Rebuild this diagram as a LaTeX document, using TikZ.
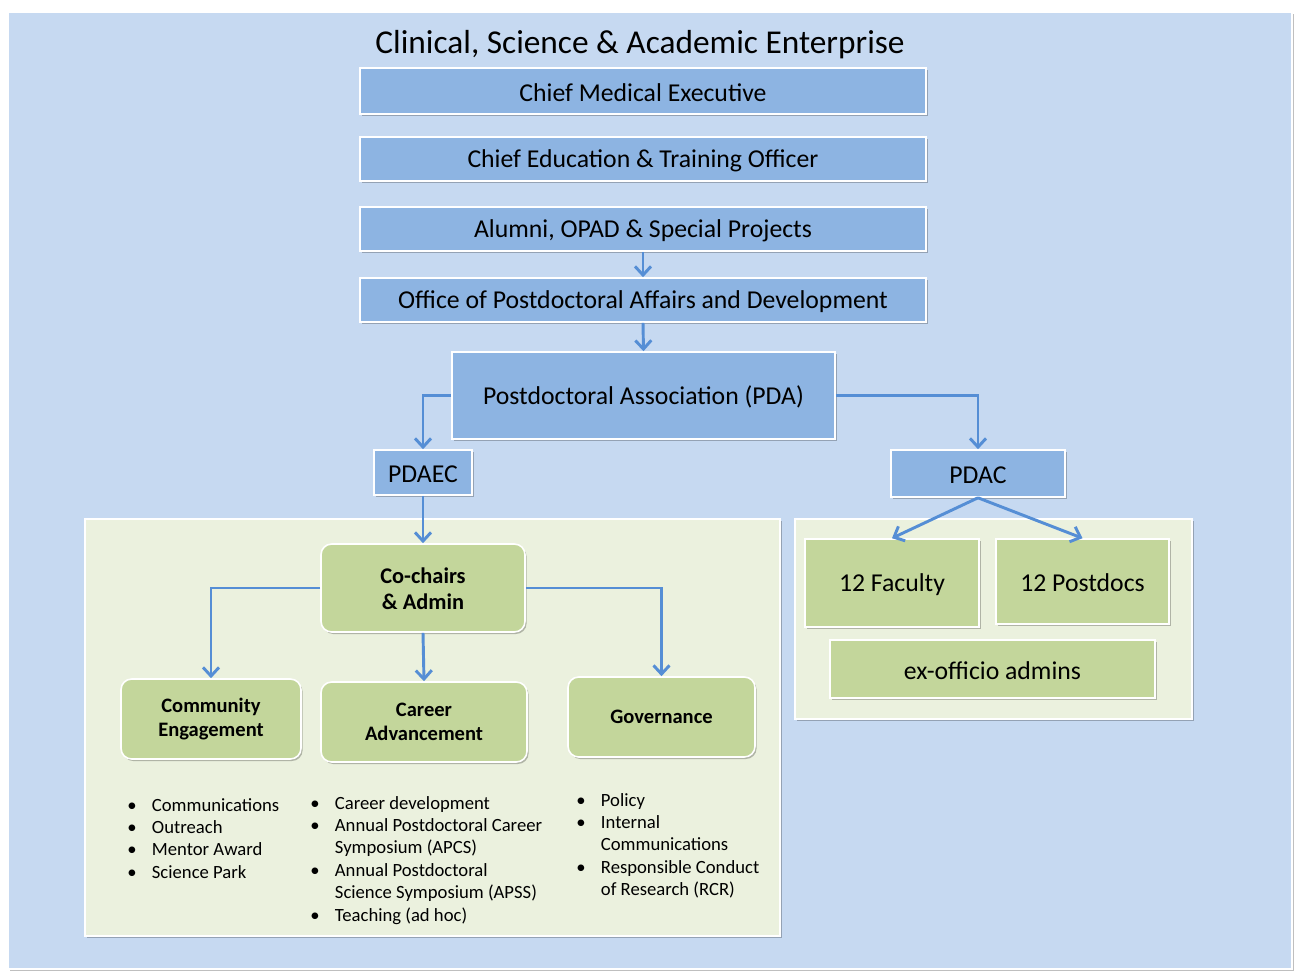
\documentclass[tikz,border=0pt]{standalone}
\usepackage{fontspec}
\setmainfont{Carlito}
\usetikzlibrary{arrows.meta,shadows,fit}
\definecolor{bgblue}{HTML}{C6D9F1}
\definecolor{boxblue}{HTML}{8DB4E2}
\definecolor{boxgreen}{HTML}{C3D69B}
\definecolor{panelgreen}{HTML}{EBF1DE}
\definecolor{arrowblue}{HTML}{558ED5}
\tikzset{
  shad/.style={drop shadow={shadow xshift=1.2pt,shadow yshift=-1.5pt,opacity=0.25,fill=black}},
  bluebox/.style={draw=white,line width=1.2pt,fill=boxblue,inner sep=0pt,shad},
  greenrbox/.style={draw=white,line width=1.2pt,fill=boxgreen,inner sep=0pt,shad,rounded corners=8pt},
  greenbox/.style={draw=white,line width=1.2pt,fill=boxgreen,inner sep=0pt,shad},
  panel/.style={draw=white,line width=1.2pt,fill=panelgreen,inner sep=0pt,shad},
  bigtxt/.style={yshift=-1.2pt,font=\fontsize{19.3}{23}\selectfont},
  boldtxt/.style={align=center,font=\bfseries\fontsize{15.4}{18}\selectfont},
  arr/.style={draw=arrowblue,line width=2.2pt,-{Straight Barb[length=6.5pt,width=12pt,line width=2.2pt]}},
  blist/.style={anchor=base west,inner sep=0pt,font=\fontsize{14}{16.8}\selectfont},
}
\newcommand{\bl}{\makebox[18.5pt][l]{•}}
\newcommand{\bi}{\hspace{18.5pt}}
\begin{document}
\begin{tikzpicture}[x=0.75pt,y=-0.75pt]
\useasboundingbox (0,0) rectangle (1306,974);
\fill[white] (0,0) rectangle (1306,974);
\path[fill=bgblue,draw=white,line width=1pt,shad] (8,12) rectangle (1292,969);

\node[font=\fontsize{25}{29}\selectfont] (title) at (640,45) {Clinical, Science \& Academic Enterprise};

\node[bluebox,fit={(360,68)(926,114)}] (cme) {};
\node[bigtxt] at (cme.center) {Chief Medical Executive};
\node[bluebox,fit={(360,137)(926,181)}] (ceto) {};
\node[bigtxt] at (ceto.center) {Chief Education \& Training Officer};
\node[bluebox,fit={(360,207)(926,251)}] (alumni) {};
\node[bigtxt] at (alumni.center) {Alumni, OPAD \& Special Projects};
\node[bluebox,fit={(360,278)(926,322)}] (opad) {};
\node[bigtxt] at (opad.center) {Office of Postdoctoral Affairs and Development};
\node[bluebox,fit={(452,352)(835,439)}] (pda) {};
\node[bigtxt] at (pda.center) {Postdoctoral Association (PDA)};
\node[bluebox,fit={(374,450)(472,495)}] (pdaec) {};
\node[bigtxt] at (pdaec.center) {PDAEC};
\node[bluebox,fit={(891,450)(1065,497)}] (pdac) {};
\node[bigtxt] at (pdac.center) {PDAC};

\node[panel,fit={(85,519)(780,936)}] (lpanel) {};
\node[panel,fit={(795,519)(1192,719)}] (rpanel) {};

\node[greenrbox,fit={(321,544)(525,632)}] (cochairs) {};
\node at (cochairs.center) [yshift=-0.8pt,align=center,font=\bfseries\fontsize{16.8}{19.5}\selectfont] {Co-chairs\\\& Admin};
\node[greenrbox,fit={(121,679)(301,759)}] (comm) {};
\node[boldtxt] at (comm.center) {Community\\Engagement};
\node[greenrbox,fit={(321,682)(527,762)}] (career) {};
\node[boldtxt] at (career.center) {Career\\Advancement};
\node[greenrbox,fit={(568,677)(755,757)}] (gov) {};
\node[boldtxt] at (gov.center) {Governance};

\node[greenbox,fit={(805,539)(979,627)}] (fac) {};
\node[bigtxt] at (fac.center) {12 Faculty};
\node[greenbox,fit={(996,539)(1169,624)}] (postdocs) {};
\node[bigtxt] at (postdocs.center) {12 Postdocs};
\node[greenbox,fit={(830,640)(1155,698)}] (exoff) {};
\node[bigtxt] at (exoff.center) {ex-officio admins};

\draw[arr] (alumni.south) -- (opad.north);
\draw[arr] (opad.south) -- (pda.north);
\draw[arr] (pda.west) -| (pdaec.north);
\draw[arr] (pda.east) -| (pdac.north);
\draw[arr] (pdaec.south) -- (cochairs.north);
\draw[arr] (pdac.south) -- (fac.north);
\draw[arr] (pdac.south) -- (postdocs.north);
\draw[arr] (cochairs.west) -| (comm.north);
\draw[arr] (cochairs.south) -- (career.north);
\draw[arr] (cochairs.east) -| (gov.north);

\node[blist] (l1) at (127,811) {\begin{tabular}[t]{@{}l@{}}
\bl Communications\\ \bl Outreach\\ \bl Mentor Award\\ \bl Science Park\end{tabular}};
\node[blist] (l2) at (310,809) {\begin{tabular}[t]{@{}l@{}}
\bl Career development\\ \bl Annual Postdoctoral Career\\ \bi Symposium (APCS)\\
\bl Annual Postdoctoral\\ \bi Science Symposium (APSS)\\ \bl Teaching (ad hoc)\end{tabular}};
\node[blist] (l3) at (576,806) {\begin{tabular}[t]{@{}l@{}}
\bl Policy\\ \bl Internal\\ \bi Communications\\
\bl Responsible Conduct\\ \bi of Research (RCR)\end{tabular}};
\end{tikzpicture}
\end{document}
